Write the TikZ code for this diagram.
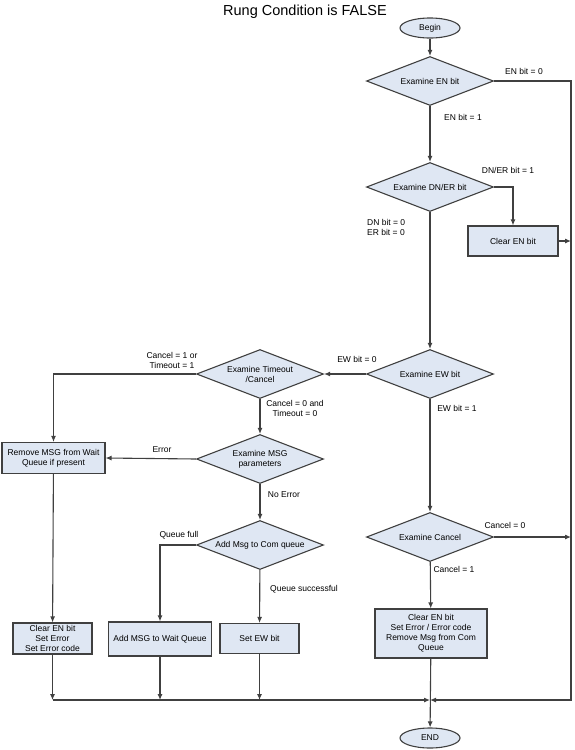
\documentclass[tikz,border=0pt]{standalone}
\usepackage{fontspec}
\setmainfont{Liberation Sans}
\usetikzlibrary{shapes.geometric,arrows.meta}
\definecolor{boxfill}{RGB}{223,231,243}
\definecolor{edge}{RGB}{64,64,64}

\begin{document}
\begin{tikzpicture}[x=1pt,y=-1pt,
  font=\fontsize{8.5}{10}\selectfont,
  >={Latex[length=6pt,width=5pt]},
  dec/.style={diamond,draw=edge,fill=boxfill,line width=1.1pt,aspect=2.6,inner sep=0pt,
    minimum width=127pt,minimum height=49pt,align=center},
  proc/.style={rectangle,draw=edge,fill=boxfill,line width=1.1pt,align=center,inner sep=1pt},
  term/.style={ellipse,draw=edge,fill=boxfill,line width=1.1pt,minimum width=60pt,
    minimum height=20pt,inner sep=0pt},
  lbl/.style={inner sep=1pt,align=center},
  flow/.style={draw=edge,line width=1.1pt}]
  \useasboundingbox (0,0) rectangle (575,750);
  \node[font=\fontsize{14.5}{16}\selectfont] (title) at (305,12) {Rung Condition is FALSE};
  % main column
  \node[term] (begin) at (430,28) {Begin};
  \node[dec] (en) at (430,81) {Examine EN bit};
  \node[dec] (dner) at (430,187) {Examine DN/ER bit};
  \node[proc,minimum width=90pt,minimum height=30pt] (clren) at (513,241) {Clear EN bit};
  \node[dec] (ew) at (430,374) {Examine EW bit};
  \node[dec] (can) at (430,537) {Examine Cancel};
  \node[proc,minimum width=112pt,minimum height=49pt] (clrcan) at (431,633.5)
    {Clear EN bit\\Set Error / Error code\\Remove Msg from Com\\Queue};
  \node[term] (end) at (430,738) {END};
  % wait queue branch
  \node[dec] (tmo) at (260,374) {Examine Timeout\\/Cancel};
  \node[dec] (msg) at (260,459) {Examine MSG\\parameters};
  \node[dec] (addq) at (260,545) {Add Msg to Com queue};
  \node[proc,minimum width=103pt,minimum height=31pt] (remove) at (53.5,458)
    {Remove MSG from Wait\\Queue if present};
  \node[proc,minimum width=79pt,minimum height=31pt] (clrerr) at (52.5,638.5)
    {Clear EN bit\\Set Error\\Set Error code};
  \node[proc,minimum width=103pt,minimum height=34pt] (addwait) at (160,639) {Add MSG to Wait Queue};
  \node[proc,minimum width=79pt,minimum height=30pt] (setew) at (259.5,638.5) {Set EW bit};
  % rails
  \coordinate (railtop) at (571,81);
  \coordinate (railbot) at (571,700);
  \coordinate (join) at (430,700);
  % connectors
  \draw[flow,->] (begin) -- (en);
  \draw[flow,->] (en) -- (dner);
  \draw[flow,->] (dner.east) -| (clren.north);
  \draw[flow,->] (dner) -- (ew);
  \draw[flow,->] (ew.west) -- (tmo.east);
  \draw[flow,->] (tmo.west) -| (remove.north);
  \draw[flow,->] (tmo) -- (msg);
  \draw[flow,->] (msg.west) -- (remove.east);
  \draw[flow,->] (msg) -- (addq);
  \draw[flow,->] (addq.west) -| (addwait.north);
  \draw[flow,->] (addq) -- (setew);
  \draw[flow,->] (remove) -- (clrerr);
  \draw[flow,->] (ew) -- (can);
  \draw[flow,->] (can) -- (clrcan);
  \draw[flow,->] (clrcan) -- (end);
  \draw[flow,->] (en.east) -- (railtop) -- (railbot) -- (join);
  \draw[flow,->] (clren.east) -- (clren.east -| railtop);
  \draw[flow,->] (can.east) -- (can.east -| railtop);
  \draw[flow,->] (clrerr.south) -- (clrerr.south |- join);
  \draw[flow,->] (addwait.south) -- (addwait.south |- join);
  \draw[flow,->] (setew.south) -- (setew.south |- join);
  \draw[flow,->] (clrerr.south |- join) -- (join);
  % labels
  \node[lbl] (l-en0) at (524,71) {EN bit = 0};
  \node[lbl] (l-en1) at (463,117) {EN bit = 1};
  \node[lbl] (l-der1) at (508,170) {DN/ER bit = 1};
  \node[lbl,anchor=west,align=left] (l-der0) at (366,227.5) {DN bit = 0\\ER bit = 0};
  \node[lbl] (l-ew0) at (357,359) {EW bit = 0};
  \node[lbl] (l-ew1) at (457,408) {EW bit = 1};
  \node[lbl] (l-tmo1) at (172,360) {Cancel = 1 or\\Timeout = 1};
  \node[lbl] (l-tmo0) at (295,408) {Cancel = 0 and\\Timeout = 0};
  \node[lbl] (l-err) at (162,450) {Error};
  \node[lbl] (l-noerr) at (284,495) {No Error};
  \node[lbl] (l-full) at (179,535) {Queue full};
  \node[lbl] (l-ok) at (304,589) {Queue successful};
  \node[lbl] (l-can0) at (505,525) {Cancel = 0};
  \node[lbl] (l-can1) at (454,569) {Cancel = 1};
\end{tikzpicture}
\end{document}
